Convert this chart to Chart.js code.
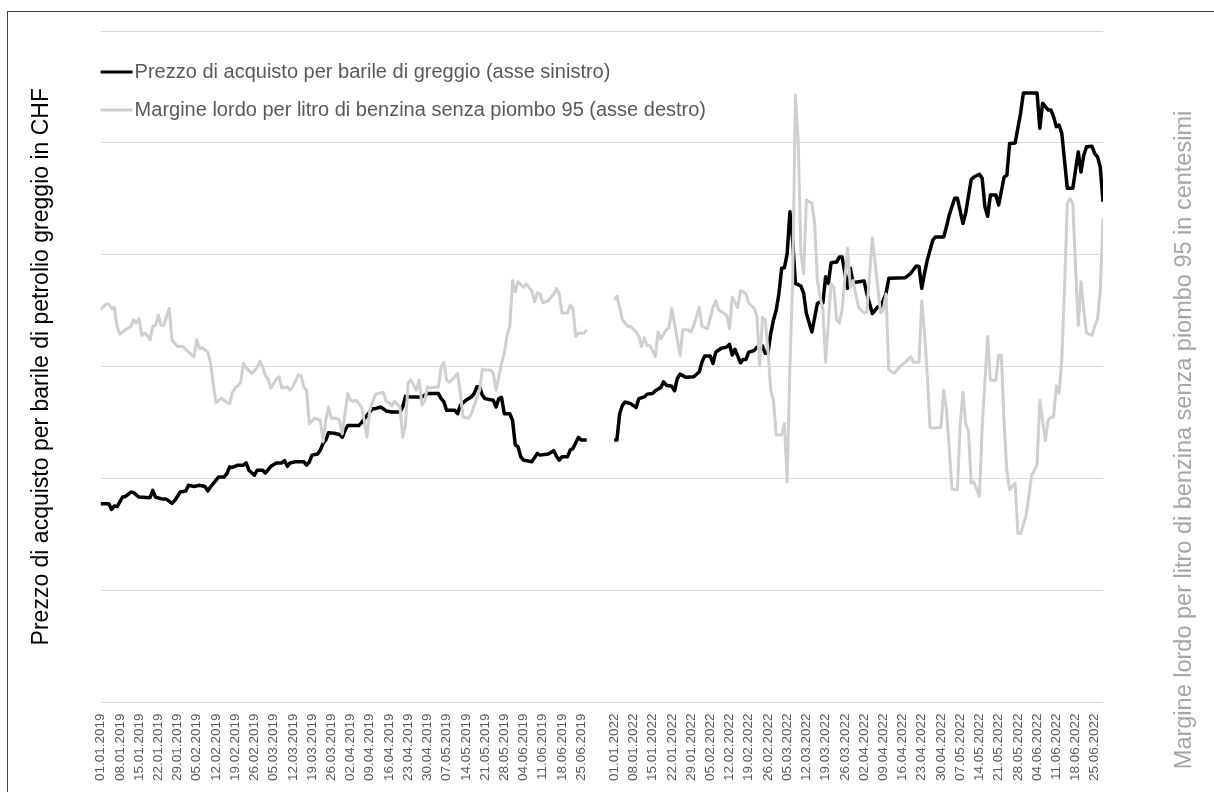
<!DOCTYPE html>
<html>
<head>
<meta charset="utf-8">
<script src="https://cdn.jsdelivr.net/npm/chart.js@4.4.0/dist/chart.umd.min.js"></script>
<style>
  body { margin: 0; background: #fff; overflow: hidden; }
  #frame { position: absolute; left: 7px; top: 11px; width: 1400px; height: 1000px; border: 1px solid #404040; }
  canvas { position: absolute; left: 0; top: 0; }
</style>
</head>
<body>
<div id="frame"></div>
<canvas id="chart" width="1214" height="792"></canvas>
<script>
// x values are days counted from 1 January of each half year
const tick_labels_2019 = ["01.01.2019", "08.01.2019", "15.01.2019", "22.01.2019", "29.01.2019", "05.02.2019", "12.02.2019", "19.02.2019", "26.02.2019", "05.03.2019", "12.03.2019", "19.03.2019", "26.03.2019", "02.04.2019", "09.04.2019", "16.04.2019", "23.04.2019", "30.04.2019", "07.05.2019", "14.05.2019", "21.05.2019", "28.05.2019", "04.06.2019", "11.06.2019", "18.06.2019", "25.06.2019"]
const tick_labels_2022 = ["01.01.2022", "08.01.2022", "15.01.2022", "22.01.2022", "29.01.2022", "05.02.2022", "12.02.2022", "19.02.2022", "26.02.2022", "05.03.2022", "12.03.2022", "19.03.2022", "26.03.2022", "02.04.2022", "09.04.2022", "16.04.2022", "23.04.2022", "30.04.2022", "07.05.2022", "14.05.2022", "21.05.2022", "28.05.2022", "04.06.2022", "11.06.2022", "18.06.2022", "25.06.2022"]
const tick_days = [0, 7, 14, 21, 28, 35, 42, 49, 56, 63, 70, 77, 84, 91, 98, 105, 112, 119, 126, 133, 140, 147, 154, 161, 168, 175]

// where 01.01.2022 sits on the axis (the two half years are drawn side by side)
const start_2022 = 187
const axis_end = 365

// purchase price per barrel, CHF (left axis)
const crude_2019 = [[0,55.5],[3,55.5],[4,54.5],[5,55.1],[6,55.0],[8,56.7],[9,56.8],[11,57.6],[12,57.5],[14,56.7],[18,56.6],[19,57.9],[20,56.7],[22,56.4],[24,56.3],[26,55.6],[27,56.1],[29,57.6],[31,57.8],[32,58.8],[34,58.6],[36,58.8],[38,58.6],[39,57.8],[40,58.5],[41,59.1],[43,60.3],[45,60.3],[46,60.9],[47,62.1],[48,62.0],[50,62.4],[52,62.4],[53,62.8],[54,61.5],[56,60.6],[57,61.5],[59,61.5],[60,61.0],[62,62.2],[64,62.8],[66,62.8],[67,63.2],[68,62.2],[69,62.8],[71,63.0],[74,63.0],[75,62.4],[76,63.0],[77,64.2],[79,64.4],[80,65.1],[81,66.3],[82,66.9],[83,68.2],[85,68.1],[87,67.9],[88,67.4],[89,68.6],[90,69.5],[94,69.5],[95,70.0],[97,71.3],[99,72.5],[100,72.5],[102,72.8],[104,72.1],[106,71.9],[109,71.9],[110,72.8],[111,74.7],[113,74.6],[117,74.6],[118,74.9],[119,75.2],[123,75.2],[124,74.3],[125,73.7],[126,72.2],[129,72.2],[130,71.6],[131,73.1],[133,74.0],[135,74.6],[136,75.2],[137,76.4],[138,76.4],[139,74.9],[140,74.3],[143,74.0],[144,72.8],[145,74.3],[146,74.5],[147,71.6],[149,71.6],[150,70.4],[151,66.0],[152,65.7],[153,63.9],[154,63.3],[157,63.0],[159,64.5],[160,64.2],[163,64.4],[165,65.0],[166,64.0],[167,63.3],[168,63.9],[170,63.9],[171,65.1],[172,65.4],[174,67.4],[175,66.9],[177,66.9]]
const crude_2022 = [[0,66.9],[1,66.9],[2,71.6],[3,73.1],[4,73.7],[6,73.4],[8,72.7],[9,74.3],[11,74.6],[12,75.1],[14,75.2],[15,75.7],[17,76.3],[18,77.3],[19,76.7],[21,76.5],[22,75.7],[23,77.9],[24,78.7],[26,78.1],[29,78.2],[31,79.1],[32,80.9],[33,81.9],[35,81.9],[36,80.6],[37,82.6],[39,83.3],[41,83.5],[42,84.0],[43,82.1],[44,83.1],[46,80.7],[47,81.3],[48,81.3],[49,82.6],[51,82.9],[52,83.5],[54,83.7],[55,82.4],[56,82.4],[57,85.9],[58,88.3],[59,90.1],[60,93.1],[61,97.6],[62,97.7],[63,100.2],[64,107.7],[65,102.6],[66,94.9],[68,94.4],[69,93.1],[70,89.5],[72,86.2],[74,91.3],[75,91.6],[76,91.4],[77,96.1],[78,94.9],[79,98.6],[81,98.7],[82,99.6],[83,99.6],[85,94.0],[86,97.6],[87,95.0],[89,95.2],[91,95.3],[92,93.1],[94,89.5],[96,90.7],[97,90.7],[98,91.9],[99,93.1],[100,95.8],[106,95.9],[108,96.7],[110,98.0],[111,97.9],[112,94.0],[113,96.7],[114,99.0],[116,102.6],[117,103.2],[120,103.2],[121,105.0],[122,107.1],[124,110.1],[125,110.1],[127,105.6],[128,107.5],[130,113.4],[131,113.9],[133,114.4],[134,113.7],[135,108.6],[136,106.9],[137,110.7],[139,110.7],[140,108.9],[142,113.9],[143,114.2],[144,119.9],[146,120.0],[148,125.3],[149,128.9],[154,128.9],[155,122.6],[156,127.1],[158,125.9],[159,125.9],[160,124.7],[161,122.9],[162,123.2],[163,121.7],[165,111.9],[167,111.9],[169,118.4],[170,114.8],[171,117.8],[172,119.3],[174,119.4],[175,118.1],[176,117.5],[177,115.7],[178,109.5]]

// gross margin per litre unleaded 95, centimes (right axis)
const margin_2019 = [[0,35.1],[2,35.6],[3,35.6],[4,35.2],[5,35.3],[6,33.6],[7,32.9],[8,33.1],[9,33.3],[11,33.6],[12,34.2],[13,33.9],[14,34.3],[15,32.8],[16,33.0],[17,32.8],[18,32.4],[19,33.6],[20,33.7],[21,34.6],[22,33.7],[23,33.7],[25,35.2],[26,32.4],[28,31.8],[30,31.8],[32,31.3],[34,30.9],[35,32.4],[36,31.6],[37,31.7],[39,31.3],[40,30.4],[41,28.5],[42,26.8],[44,27.2],[46,26.8],[47,26.7],[48,27.7],[49,28.1],[50,28.3],[51,28.6],[52,30.3],[53,29.9],[55,29.4],[57,29.9],[58,30.5],[59,30.0],[60,29.2],[61,28.9],[62,28.1],[64,28.9],[65,29.1],[66,28.1],[68,28.2],[69,27.9],[70,28.2],[72,29.3],[73,29.2],[74,28.2],[75,27.9],[76,24.9],[78,25.4],[80,25.2],[81,23.3],[82,25.2],[83,26.4],[84,25.4],[86,25.4],[87,25.2],[88,24.0],[90,27.6],[91,27.0],[92,26.9],[93,27.0],[95,26.4],[96,25.2],[97,23.7],[98,26.1],[100,27.5],[101,27.6],[103,27.7],[104,26.9],[105,26.8],[106,26.5],[107,26.9],[109,26.4],[110,23.7],[111,24.8],[112,28.6],[113,28.8],[115,27.9],[116,28.8],[117,26.6],[118,26.9],[119,28.2],[120,28.1],[123,28.2],[124,30.0],[125,30.4],[126,28.8],[127,28.6],[129,29.1],[130,29.4],[131,27.6],[132,25.5],[134,25.4],[135,25.8],[137,27.2],[138,27.9],[139,29.8],[140,29.7],[142,29.7],[143,29.4],[144,27.9],[146,30.3],[147,31.2],[148,32.8],[149,33.6],[150,37.7],[151,36.7],[152,37.6],[154,37.1],[155,37.4],[157,36.8],[158,35.8],[159,36.6],[160,36.5],[161,35.7],[163,35.9],[165,36.5],[166,37.0],[167,36.5],[168,34.8],[170,34.8],[171,35.5],[172,35.2],[173,32.7],[174,33.0],[176,33.0],[177,33.3]]
const margin_2022 = [[0,36.0],[1,36.3],[2,35.3],[3,34.2],[5,33.6],[6,33.6],[8,33.1],[9,32.7],[10,31.8],[11,32.6],[12,31.9],[13,31.9],[15,30.9],[16,33.1],[17,32.5],[19,33.3],[20,33.5],[21,35.2],[24,31.0],[25,33.3],[27,33.3],[28,33.1],[29,33.7],[31,35.3],[32,33.6],[34,33.4],[36,35.3],[37,35.9],[38,35.1],[41,34.6],[42,33.4],[43,36.2],[45,35.3],[46,36.8],[47,36.7],[48,36.5],[49,35.7],[51,35.2],[52,34.5],[53,30.1],[54,34.4],[55,34.2],[56,31.5],[57,27.9],[58,27.0],[59,23.9],[61,23.9],[62,24.9],[63,19.7],[64,30.0],[65,37.7],[66,54.3],[67,50.3],[68,40.1],[69,38.3],[70,44.9],[72,44.6],[73,42.8],[74,37.7],[75,36.2],[76,35.1],[77,30.4],[79,37.4],[80,37.1],[81,34.2],[82,33.9],[83,35.1],[85,40.6],[86,37.1],[87,37.7],[88,36.5],[89,35.3],[91,34.8],[92,34.9],[94,41.5],[96,37.1],[97,34.8],[98,35.1],[99,36.5],[100,29.7],[102,29.4],[104,30.0],[106,30.4],[108,30.9],[109,30.4],[111,30.4],[112,35.9],[113,33.0],[114,29.4],[115,24.6],[116,24.5],[119,24.6],[120,27.9],[121,26.1],[122,22.8],[123,19.1],[125,19.0],[126,24.9],[127,27.7],[128,24.9],[129,24.3],[130,19.6],[131,19.7],[133,18.4],[134,24.6],[136,32.7],[137,28.8],[139,28.8],[140,31.0],[141,31.0],[142,24.9],[143,20.7],[144,19.0],[146,19.6],[147,15.1],[148,15.1],[149,15.9],[150,16.7],[151,18.4],[152,20.3],[153,20.7],[154,21.3],[155,27.0],[157,23.4],[158,25.2],[159,25.5],[160,25.5],[161,28.3],[162,27.6],[163,30.6],[164,37.1],[165,44.6],[166,45.0],[167,44.6],[168,38.9],[169,33.7],[170,37.6],[171,35.1],[172,33.0],[174,32.8],[175,33.6],[176,34.3],[177,36.8],[178,43.3]]

const font_family = "'Liberation Sans', Arial, sans-serif"

function toPoints(pairs, shift) {
    return pairs.map(p => ({ "x": p[0] + shift, "y": p[1] }))
}

// one series per line, with a null point so the two half years stay apart
function joinHalves(first, second) {
    return toPoints(first, 0).concat([{ "x": 182, "y": null }], toPoints(second, start_2022))
}

let tick_positions = tick_days.concat(tick_days.map(d => d + start_2022))
let tick_labels = tick_labels_2019.concat(tick_labels_2022)

// legend sits inside the plot, top left, like the original
const inside_legend = {
    "id": "inside_legend",
    afterDatasetsDraw(chart) {
        let ctx = chart.ctx
        let area = chart.chartArea
        ctx.save()
        ctx.font = "20px " + font_family
        ctx.textBaseline = "middle"
        chart.data.datasets.forEach((ds, i) => {
            let y = area.top + 41 + i * 38
            ctx.strokeStyle = ds.borderColor
            ctx.lineWidth = 3
            ctx.beginPath()
            ctx.moveTo(area.left, y)
            ctx.lineTo(area.left + 32, y)
            ctx.stroke()
            ctx.fillStyle = "#595959"
            ctx.fillText(ds.label, area.left + 34, y)
        })
        ctx.restore()
    }
}

// right axis title reads bottom to top, as in the original
const right_title = {
    "id": "right_title",
    afterDraw(chart) {
        let ctx = chart.ctx
        ctx.save()
        ctx.translate(chart.width - 29, 440)
        ctx.rotate(-Math.PI / 2)
        ctx.font = "23.5px " + font_family
        ctx.fillStyle = "#a6a6a6"
        ctx.textAlign = "center"
        ctx.textBaseline = "middle"
        ctx.fillText("Margine lordo per litro di benzina senza piombo 95 in centesimi", 0, 0)
        ctx.restore()
    }
}

new Chart(document.getElementById("chart").getContext("2d"), {
    "type": "line",
    "data": {
        "datasets": [
            {
                "label": "Prezzo di acquisto per barile di greggio (asse sinistro)",
                "data": joinHalves(crude_2019, crude_2022),
                "borderColor": "#000000",
                "borderWidth": 3.5,
                "pointRadius": 0,
                "borderJoinStyle": "round",
                "yAxisID": "y",
                "order": 1
            },
            {
                "label": "Margine lordo per litro di benzina senza piombo 95 (asse destro)",
                "data": joinHalves(margin_2019, margin_2022),
                "borderColor": "#cfcfcf",
                "borderWidth": 3,
                "pointRadius": 0,
                "borderJoinStyle": "round",
                "yAxisID": "y1",
                "order": 0
            }
        ]
    },
    "options": {
        "responsive": false,
        "animation": false,
        "devicePixelRatio": 1,
        "spanGaps": false,
        "layout": { "padding": { "left": 10, "top": 31, "right": 103, "bottom": 8 } },
        "plugins": {
            "legend": { "display": false },
            "tooltip": { "enabled": false }
        },
        "scales": {
            "x": {
                "type": "linear",
                "min": 0,
                "max": axis_end,
                "grid": { "display": false },
                "border": { "display": false },
                "afterBuildTicks": scale => {
                    scale.ticks = tick_positions.map(v => ({ "value": v }))
                },
                "ticks": {
                    "autoSkip": false,
                    "minRotation": 90,
                    "maxRotation": 90,
                    "padding": 3,
                    "color": "#595959",
                    "font": { "size": 13.5, "family": font_family },
                    "callback": (value, index) => tick_labels[index]
                }
            },
            "y": {
                "position": "left",
                "min": 20,
                "max": 140,
                "ticks": { "display": false, "stepSize": 20 },
                "grid": { "color": "#d9d9d9", "drawTicks": false },
                "border": { "display": false },
                "title": {
                    "display": true,
                    "text": "Prezzo di acquisto per barile di petrolio greggio in CHF",
                    "color": "#000000",
                    "font": { "size": 23, "family": font_family },
                    "padding": { "top": 18, "bottom": 45 }
                }
            },
            "y1": {
                "position": "right",
                "min": 0,
                "max": 60,
                "ticks": { "display": false },
                "grid": { "display": false },
                "border": { "display": false }
            }
        }
    },
    "plugins": [inside_legend, right_title]
})
</script>
</body>
</html>
